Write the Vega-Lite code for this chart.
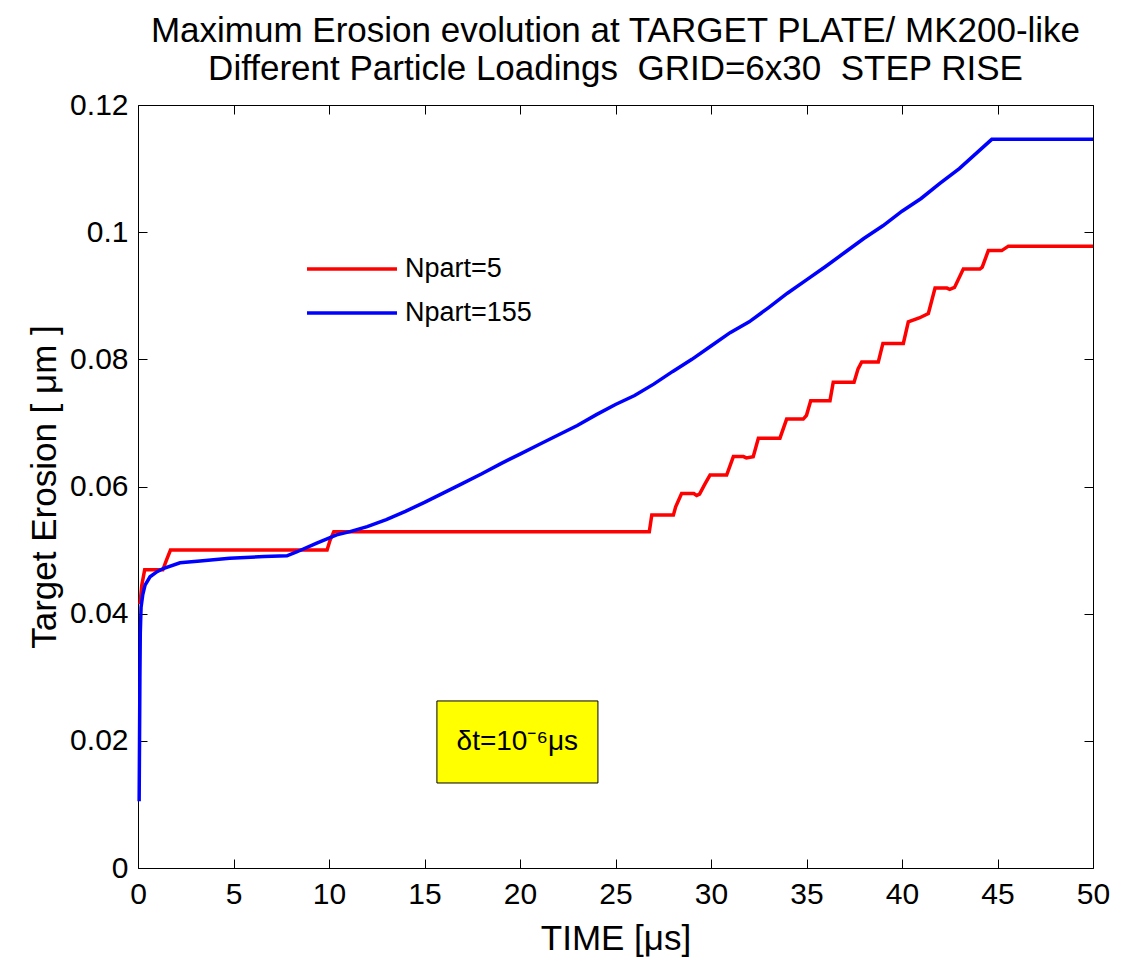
{
  "$schema": "https://vega.github.io/schema/vega-lite/v6.json",
  "width": 955,
  "height": 763,
  "autosize": {"type": "none"},
  "padding": {"left": 138, "top": 105, "right": 55, "bottom": 106},
  "background": "white",
  "title": {
    "text": ["Maximum Erosion evolution at TARGET PLATE/ MK200-like", "Different Particle Loadings \u00a0GRID=6x30 \u00a0STEP RISE"],
    "font": "Liberation Sans",
    "fontSize": 35,
    "fontWeight": "normal",
    "color": "black",
    "lineHeight": 38,
    "baseline": "bottom",
    "offset": -32,
    "anchor": "middle"
  },
  "config": {
    "view": {"stroke": null},
    "font": "Liberation Sans",
    "axis": {
      "grid": false,
      "domainColor": "black",
      "tickColor": "black",
      "labelColor": "black",
      "titleColor": "black",
      "labelFont": "Liberation Sans",
      "titleFont": "Liberation Sans",
      "titleFontWeight": "normal",
      "domainWidth": 1,
      "tickWidth": 1,
      "labelFlush": false,
      "labelOverlap": false
    }
  },
  "datasets": {
    "curves": [
      {"series": "Npart=5", "t": 0.1, "v": 0.0415},
      {"series": "Npart=5", "t": 0.2, "v": 0.0445},
      {"series": "Npart=5", "t": 0.35, "v": 0.0469},
      {"series": "Npart=5", "t": 1.3, "v": 0.0469},
      {"series": "Npart=5", "t": 1.5, "v": 0.0485},
      {"series": "Npart=5", "t": 1.7, "v": 0.05},
      {"series": "Npart=5", "t": 9.9, "v": 0.05},
      {"series": "Npart=5", "t": 10.05, "v": 0.0515},
      {"series": "Npart=5", "t": 10.25, "v": 0.0529},
      {"series": "Npart=5", "t": 26.77, "v": 0.0529},
      {"series": "Npart=5", "t": 26.9, "v": 0.0555},
      {"series": "Npart=5", "t": 28.03, "v": 0.0555},
      {"series": "Npart=5", "t": 28.15, "v": 0.0568},
      {"series": "Npart=5", "t": 28.46, "v": 0.0589},
      {"series": "Npart=5", "t": 29.1, "v": 0.0589},
      {"series": "Npart=5", "t": 29.25, "v": 0.0586},
      {"series": "Npart=5", "t": 29.4, "v": 0.0588},
      {"series": "Npart=5", "t": 29.7, "v": 0.0605},
      {"series": "Npart=5", "t": 29.95, "v": 0.0618},
      {"series": "Npart=5", "t": 30.82, "v": 0.0618},
      {"series": "Npart=5", "t": 31.17, "v": 0.0647},
      {"series": "Npart=5", "t": 31.7, "v": 0.0647},
      {"series": "Npart=5", "t": 31.85, "v": 0.0645},
      {"series": "Npart=5", "t": 32.21, "v": 0.0647},
      {"series": "Npart=5", "t": 32.48, "v": 0.0676},
      {"series": "Npart=5", "t": 33.61, "v": 0.0676},
      {"series": "Npart=5", "t": 33.96, "v": 0.0706},
      {"series": "Npart=5", "t": 34.83, "v": 0.0706},
      {"series": "Npart=5", "t": 35.0, "v": 0.0712},
      {"series": "Npart=5", "t": 35.22, "v": 0.0735},
      {"series": "Npart=5", "t": 36.23, "v": 0.0735},
      {"series": "Npart=5", "t": 36.4, "v": 0.0764},
      {"series": "Npart=5", "t": 37.49, "v": 0.0764},
      {"series": "Npart=5", "t": 37.7, "v": 0.0785},
      {"series": "Npart=5", "t": 37.89, "v": 0.0796},
      {"series": "Npart=5", "t": 38.76, "v": 0.0796},
      {"series": "Npart=5", "t": 39.0, "v": 0.0825},
      {"series": "Npart=5", "t": 40.07, "v": 0.0825},
      {"series": "Npart=5", "t": 40.33, "v": 0.0859},
      {"series": "Npart=5", "t": 40.9, "v": 0.0865},
      {"series": "Npart=5", "t": 41.38, "v": 0.0872},
      {"series": "Npart=5", "t": 41.73, "v": 0.0912},
      {"series": "Npart=5", "t": 42.35, "v": 0.0912},
      {"series": "Npart=5", "t": 42.5, "v": 0.091},
      {"series": "Npart=5", "t": 42.75, "v": 0.0913},
      {"series": "Npart=5", "t": 43.21, "v": 0.0942},
      {"series": "Npart=5", "t": 44.08, "v": 0.0942},
      {"series": "Npart=5", "t": 44.2, "v": 0.0945},
      {"series": "Npart=5", "t": 44.52, "v": 0.0971},
      {"series": "Npart=5", "t": 45.22, "v": 0.0971},
      {"series": "Npart=5", "t": 45.57, "v": 0.0978},
      {"series": "Npart=5", "t": 50, "v": 0.0978},
      {"series": "Npart=155", "t": 0.06, "v": 0.0105},
      {"series": "Npart=155", "t": 0.08, "v": 0.02},
      {"series": "Npart=155", "t": 0.1, "v": 0.03},
      {"series": "Npart=155", "t": 0.12, "v": 0.037},
      {"series": "Npart=155", "t": 0.16, "v": 0.041},
      {"series": "Npart=155", "t": 0.25, "v": 0.043},
      {"series": "Npart=155", "t": 0.37, "v": 0.0445},
      {"series": "Npart=155", "t": 0.63, "v": 0.0458},
      {"series": "Npart=155", "t": 1.0, "v": 0.0466},
      {"series": "Npart=155", "t": 1.32, "v": 0.0471},
      {"series": "Npart=155", "t": 2.2, "v": 0.048},
      {"series": "Npart=155", "t": 3.25, "v": 0.0483},
      {"series": "Npart=155", "t": 4.8, "v": 0.0487},
      {"series": "Npart=155", "t": 6.6, "v": 0.049},
      {"series": "Npart=155", "t": 7.8, "v": 0.0491},
      {"series": "Npart=155", "t": 8.3, "v": 0.0497},
      {"series": "Npart=155", "t": 9.36, "v": 0.0511},
      {"series": "Npart=155", "t": 10.4, "v": 0.0524},
      {"series": "Npart=155", "t": 11.1, "v": 0.0529},
      {"series": "Npart=155", "t": 12, "v": 0.0537},
      {"series": "Npart=155", "t": 13, "v": 0.0548},
      {"series": "Npart=155", "t": 14, "v": 0.0561},
      {"series": "Npart=155", "t": 15, "v": 0.0575},
      {"series": "Npart=155", "t": 16, "v": 0.059},
      {"series": "Npart=155", "t": 17, "v": 0.0605},
      {"series": "Npart=155", "t": 18, "v": 0.062},
      {"series": "Npart=155", "t": 19, "v": 0.0636},
      {"series": "Npart=155", "t": 20, "v": 0.0651},
      {"series": "Npart=155", "t": 21, "v": 0.0666},
      {"series": "Npart=155", "t": 22, "v": 0.0681},
      {"series": "Npart=155", "t": 23, "v": 0.0696},
      {"series": "Npart=155", "t": 24, "v": 0.0713},
      {"series": "Npart=155", "t": 25, "v": 0.0729},
      {"series": "Npart=155", "t": 26, "v": 0.0743},
      {"series": "Npart=155", "t": 27, "v": 0.0761},
      {"series": "Npart=155", "t": 28, "v": 0.0781},
      {"series": "Npart=155", "t": 29, "v": 0.08},
      {"series": "Npart=155", "t": 30, "v": 0.0821},
      {"series": "Npart=155", "t": 31, "v": 0.0842},
      {"series": "Npart=155", "t": 32, "v": 0.0859},
      {"series": "Npart=155", "t": 33, "v": 0.0881},
      {"series": "Npart=155", "t": 34, "v": 0.0904},
      {"series": "Npart=155", "t": 35, "v": 0.0925},
      {"series": "Npart=155", "t": 36, "v": 0.0946},
      {"series": "Npart=155", "t": 37, "v": 0.0968},
      {"series": "Npart=155", "t": 38, "v": 0.099},
      {"series": "Npart=155", "t": 39, "v": 0.101},
      {"series": "Npart=155", "t": 40, "v": 0.1033},
      {"series": "Npart=155", "t": 41, "v": 0.1053},
      {"series": "Npart=155", "t": 42, "v": 0.1077},
      {"series": "Npart=155", "t": 43, "v": 0.11},
      {"series": "Npart=155", "t": 44, "v": 0.1127},
      {"series": "Npart=155", "t": 44.7, "v": 0.1146},
      {"series": "Npart=155", "t": 50, "v": 0.1146}
    ],
    "box": [
      {"x1": 15.65, "x2": 24.08, "y1": 0.01337, "y2": 0.02627, "tx": 19.86, "ty": 0.0198, "label": "δt=10⁻⁶μs"}
    ]
  },
  "layer": [
    {
      "data": {"name": "curves"},
      "mark": {"type": "line", "strokeWidth": 3.5, "interpolate": "linear"},
      "encoding": {
        "x": {
          "field": "t",
          "type": "quantitative",
          "scale": {"domain": [0, 50], "nice": false, "zero": false},
          "axis": {
            "orient": "bottom",
            "title": "TIME [μs]",
            "values": [0, 5, 10, 15, 20, 25, 30, 35, 40, 45, 50],
            "format": "d",
            "tickSize": -9,
            "labelPadding": 20,
            "labelFontSize": 30,
            "titleFontSize": 35,
            "titlePadding": 12
          }
        },
        "y": {
          "field": "v",
          "type": "quantitative",
          "scale": {"domain": [0, 0.12], "nice": false, "zero": false},
          "axis": {
            "orient": "left",
            "title": "Target Erosion [ μm ]",
            "values": [0, 0.02, 0.04, 0.06, 0.08, 0.1, 0.12],
            "format": ".3~g",
            "tickSize": -9,
            "labelPadding": 19,
            "labelFontSize": 30,
            "titleFontSize": 35,
            "titlePadding": 7
          }
        },
        "color": {
          "field": "series",
          "type": "nominal",
          "sort": ["Npart=5", "Npart=155"],
          "scale": {"domain": ["Npart=5", "Npart=155"], "range": ["#ff0000", "#0000ff"]},
          "legend": {
            "orient": "none",
            "title": null,
            "direction": "vertical",
            "legendX": 193.5,
            "legendY": 143.5,
            "padding": 0,
            "symbolType": "M-2.432,0H2.432",
            "symbolSize": 1369,
            "symbolStrokeWidth": 3.5,
            "labelFontSize": 27,
            "labelFont": "Liberation Sans",
            "labelColor": "black",
            "labelOffset": 32.5,
            "rowPadding": 10
          }
        }
      }
    },
    {
      "data": {"name": "box"},
      "mark": {"type": "rect", "fill": "#ffff00", "stroke": "black", "strokeWidth": 1},
      "encoding": {
        "x": {
          "field": "x1",
          "type": "quantitative",
          "scale": {"domain": [0, 50], "nice": false, "zero": false},
          "axis": {
            "orient": "top",
            "title": null,
            "labels": false,
            "values": [0, 5, 10, 15, 20, 25, 30, 35, 40, 45, 50],
            "tickSize": -9
          }
        },
        "x2": {"field": "x2"},
        "y": {
          "field": "y1",
          "type": "quantitative",
          "scale": {"domain": [0, 0.12], "nice": false, "zero": false},
          "axis": {
            "orient": "right",
            "title": null,
            "labels": false,
            "values": [0, 0.02, 0.04, 0.06, 0.08, 0.1, 0.12],
            "tickSize": -9
          }
        },
        "y2": {"field": "y2"}
      }
    },
    {
      "data": {"name": "box"},
      "mark": {"type": "text", "font": "Liberation Sans", "fontSize": 28, "color": "black", "align": "center", "baseline": "middle"},
      "encoding": {
        "x": {"field": "tx", "type": "quantitative", "scale": {"domain": [0, 50], "nice": false, "zero": false}, "axis": null},
        "y": {"field": "ty", "type": "quantitative", "scale": {"domain": [0, 0.12], "nice": false, "zero": false}, "axis": null},
        "text": {"field": "label"}
      }
    }
  ],
  "resolve": {"axis": {"x": "independent", "y": "independent"}}
}
